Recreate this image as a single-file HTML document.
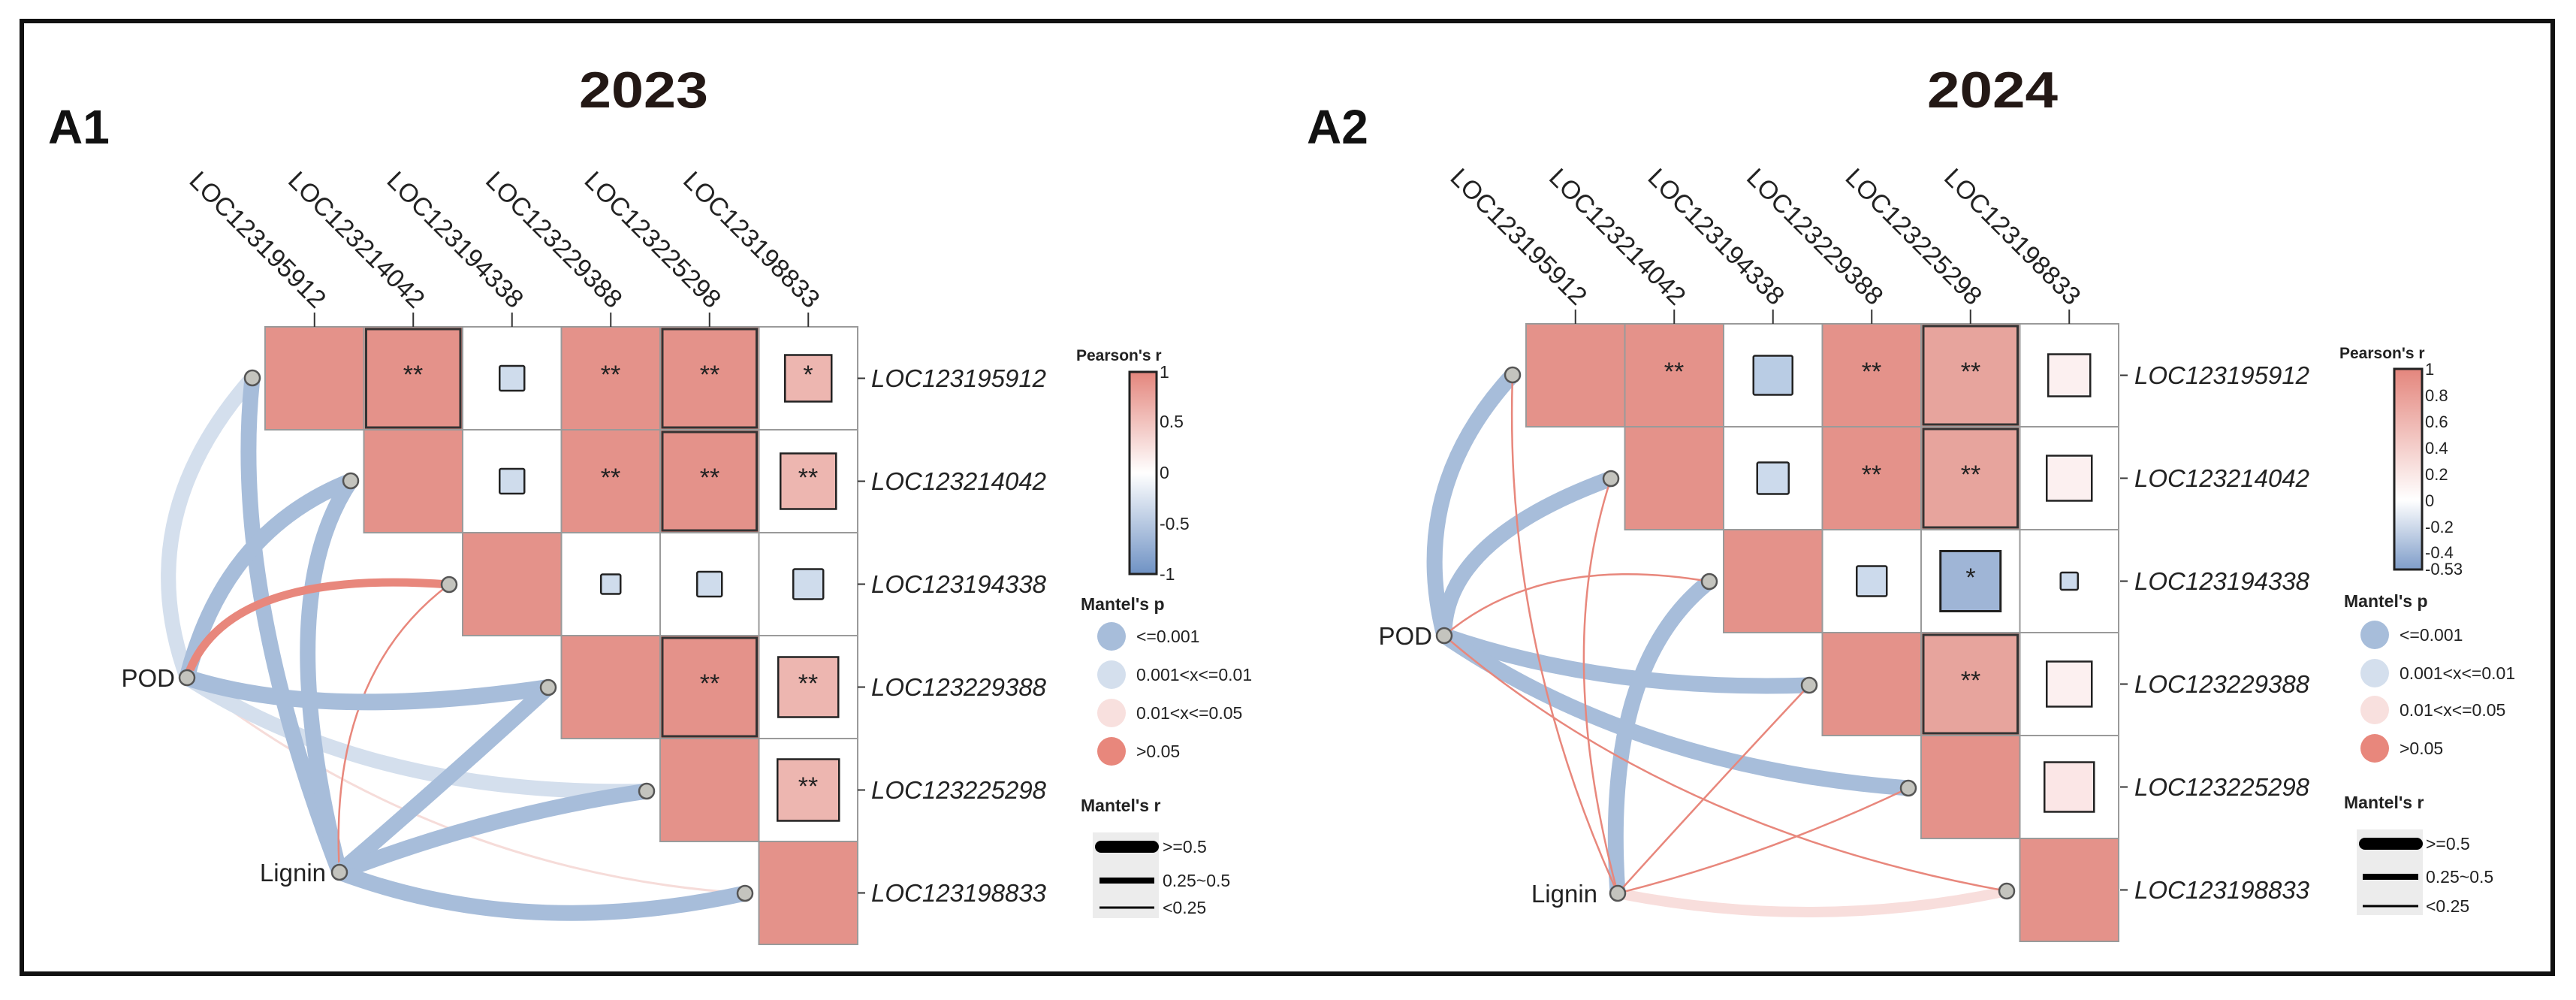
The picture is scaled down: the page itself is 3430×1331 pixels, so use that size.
<!DOCTYPE html>
<html><head><meta charset="utf-8"><style>
html,body{margin:0;padding:0;background:#fff;}
svg{display:block;font-family:"Liberation Sans",Arial,sans-serif;}
</style></head><body>
<svg width="3430" height="1331" viewBox="0 0 3430 1331" xmlns="http://www.w3.org/2000/svg">
<defs>
<linearGradient id="g1" x1="0" y1="0" x2="0" y2="1">
<stop offset="0" stop-color="#E4867D"/><stop offset="0.5" stop-color="#ffffff"/><stop offset="1" stop-color="#6F92C4"/>
</linearGradient>
<linearGradient id="g2" x1="0" y1="0" x2="0" y2="1">
<stop offset="0" stop-color="#E4867D"/><stop offset="0.654" stop-color="#ffffff"/><stop offset="1" stop-color="#7F9DC9"/>
</linearGradient>
</defs>
<rect x="0" y="0" width="3430" height="1331" fill="#fff"/>
<rect x="29" y="28" width="3370" height="1268" fill="none" stroke="#111" stroke-width="6"/>

<text x="857" y="143" font-size="68" font-weight="bold" text-anchor="middle" fill="#231815" textLength="172" lengthAdjust="spacingAndGlyphs">2023</text>
<text x="2653" y="143" font-size="68" font-weight="bold" text-anchor="middle" fill="#231815" textLength="174" lengthAdjust="spacingAndGlyphs">2024</text>
<text x="64" y="191" font-size="64" font-weight="bold" fill="#111">A1</text>
<text x="1740" y="191" font-size="64" font-weight="bold" fill="#111">A2</text>

<!-- ===== Panel A1 grid ===== -->
<g transform="translate(353,435)" stroke="#9a9a9a" stroke-width="2">
<rect x="0" y="0" width="131.5" height="137" fill="#E4928A"/>
<rect x="131.5" y="0" width="131.5" height="137" fill="#E4928A"/>
<rect x="134.5" y="3" width="125.5" height="131" fill="#E4928A" stroke="#333" stroke-width="3"/>
<rect x="263" y="0" width="131.5" height="137" fill="#fff"/>
<rect x="312.25" y="52" width="33" height="33" fill="#CFDCEC" stroke="#222" stroke-width="2.5" rx="2"/>
<rect x="394.5" y="0" width="131.5" height="137" fill="#E4928A"/>
<rect x="526" y="0" width="131.5" height="137" fill="#E4928A"/>
<rect x="529" y="3" width="125.5" height="131" fill="#E4928A" stroke="#333" stroke-width="3"/>
<rect x="657.5" y="0" width="131.5" height="137" fill="#fff"/>
<rect x="692.25" y="37.5" width="62" height="62" fill="#EDB6B0" stroke="#222" stroke-width="2.5"/>
<rect x="131.5" y="137" width="131.5" height="137" fill="#E4928A"/>
<rect x="263" y="137" width="131.5" height="137" fill="#fff"/>
<rect x="312.25" y="189" width="33" height="33" fill="#CFDCEC" stroke="#222" stroke-width="2.5" rx="2"/>
<rect x="394.5" y="137" width="131.5" height="137" fill="#E4928A"/>
<rect x="526" y="137" width="131.5" height="137" fill="#E4928A"/>
<rect x="529" y="140" width="125.5" height="131" fill="#E4928A" stroke="#333" stroke-width="3"/>
<rect x="657.5" y="137" width="131.5" height="137" fill="#fff"/>
<rect x="686.25" y="168.5" width="74" height="74" fill="#EDB6B0" stroke="#222" stroke-width="2.5"/>
<rect x="263" y="274" width="131.5" height="137" fill="#E4928A"/>
<rect x="394.5" y="274" width="131.5" height="137" fill="#fff"/>
<rect x="447.25" y="329.5" width="26" height="26" fill="#CFDCEC" stroke="#222" stroke-width="2.5" rx="2"/>
<rect x="526" y="274" width="131.5" height="137" fill="#fff"/>
<rect x="575.25" y="326" width="33" height="33" fill="#CFDCEC" stroke="#222" stroke-width="2.5" rx="2"/>
<rect x="657.5" y="274" width="131.5" height="137" fill="#fff"/>
<rect x="703.25" y="322.5" width="40" height="40" fill="#CFDCEC" stroke="#222" stroke-width="2.5" rx="2"/>
<rect x="394.5" y="411" width="131.5" height="137" fill="#E4928A"/>
<rect x="526" y="411" width="131.5" height="137" fill="#E4928A"/>
<rect x="529" y="414" width="125.5" height="131" fill="#E4928A" stroke="#333" stroke-width="3"/>
<rect x="657.5" y="411" width="131.5" height="137" fill="#fff"/>
<rect x="683.25" y="439.5" width="80" height="80" fill="#EDB6B0" stroke="#222" stroke-width="2.5"/>
<rect x="526" y="548" width="131.5" height="137" fill="#E4928A"/>
<rect x="657.5" y="548" width="131.5" height="137" fill="#fff"/>
<rect x="682.25" y="575.5" width="82" height="82" fill="#EDB6B0" stroke="#222" stroke-width="2.5"/>
<rect x="657.5" y="685" width="131.5" height="137" fill="#E4928A"/>
</g>
<g font-size="34" fill="#222" text-anchor="middle">
<text x="550" y="510">**</text><text x="813" y="510">**</text><text x="945" y="510">**</text><text x="1076" y="510">*</text>
<text x="813" y="647">**</text><text x="945" y="647">**</text><text x="1076" y="647">**</text>
<text x="945" y="921">**</text><text x="1076" y="921">**</text>
<text x="1076" y="1058">**</text>
</g>
<g stroke="#333" stroke-width="2">
<line x1="418.75" y1="416" x2="418.75" y2="435"/><line x1="550.25" y1="416" x2="550.25" y2="435"/><line x1="681.75" y1="416" x2="681.75" y2="435"/><line x1="813.25" y1="416" x2="813.25" y2="435"/><line x1="944.75" y1="416" x2="944.75" y2="435"/><line x1="1076.25" y1="416" x2="1076.25" y2="435"/>
<line x1="1142" y1="503.5" x2="1152" y2="503.5"/><line x1="1142" y1="640.5" x2="1152" y2="640.5"/><line x1="1142" y1="777.5" x2="1152" y2="777.5"/><line x1="1142" y1="914.5" x2="1152" y2="914.5"/><line x1="1142" y1="1051.5" x2="1152" y2="1051.5"/><line x1="1142" y1="1188.5" x2="1152" y2="1188.5"/>
</g>
<g font-size="34" fill="#222" text-anchor="end">
<text transform="translate(420,412) rotate(45)">LOC123195912</text>
<text transform="translate(551.5,412) rotate(45)">LOC123214042</text>
<text transform="translate(683,412) rotate(45)">LOC123194338</text>
<text transform="translate(814.5,412) rotate(45)">LOC123229388</text>
<text transform="translate(946,412) rotate(45)">LOC123225298</text>
<text transform="translate(1077.5,412) rotate(45)">LOC123198833</text>
</g>
<g font-size="33" fill="#222" font-style="italic">
<text x="1160" y="515">LOC123195912</text>
<text x="1160" y="652">LOC123214042</text>
<text x="1160" y="789">LOC123194338</text>
<text x="1160" y="926">LOC123229388</text>
<text x="1160" y="1063">LOC123225298</text>
<text x="1160" y="1200">LOC123198833</text>
</g>
<g fill="none">
<path d="M249,902 Q583.5,1162.5 992,1189" stroke="#F6DCD9" stroke-width="3"/>
<path d="M249,902 Q171.5,689.5 336,503" stroke="#D4DFED" stroke-width="20"/>
<path d="M249,902 Q495,1060.5 861,1053" stroke="#D4DFED" stroke-width="20"/>
<path d="M452,1161 Q306,782 336,503" stroke="#A7BDDA" stroke-width="21"/>
<path d="M249,902 Q298,707 467,640" stroke="#A7BDDA" stroke-width="21"/>
<path d="M452,1161 Q360.5,797.5 467,640" stroke="#A7BDDA" stroke-width="21"/>
<path d="M249,902 Q298.5,756 598,778" stroke="#E8877C" stroke-width="11"/>
<path d="M452,1161 Q437,898.5 598,778" stroke="#E8877C" stroke-width="2.5"/>
<path d="M249,902 Q428.5,959.5 730,915" stroke="#A7BDDA" stroke-width="22"/>
<path d="M452,1161 Q591,1042 730,915" stroke="#A7BDDA" stroke-width="21"/>
<path d="M452,1161 Q655.5,1083 861,1053" stroke="#A7BDDA" stroke-width="21"/>
<path d="M452,1161 Q700,1253 992,1189" stroke="#A7BDDA" stroke-width="21"/>
</g>
<g fill="#C4C4BE" stroke="#555" stroke-width="2.5">
<circle cx="336" cy="503" r="10"/><circle cx="467" cy="640" r="10"/><circle cx="598" cy="778" r="10"/><circle cx="730" cy="915" r="10"/><circle cx="861" cy="1053" r="10"/><circle cx="992" cy="1189" r="10"/>
<circle cx="249" cy="902" r="10"/><circle cx="452" cy="1161" r="10"/>
</g>
<text x="233" y="914" font-size="33" text-anchor="end" fill="#222">POD</text>
<text x="434" y="1173" font-size="33" text-anchor="end" fill="#222">Lignin</text>

<text x="1433" y="480" font-size="21" font-weight="bold" fill="#222">Pearson's r</text>
<rect x="1504" y="495" width="36" height="269" fill="url(#g1)" stroke="#222" stroke-width="3"/>
<g font-size="23" fill="#222">
<text x="1544" y="503">1</text><text x="1544" y="569">0.5</text><text x="1544" y="637">0</text><text x="1544" y="705">-0.5</text><text x="1544" y="772">-1</text>
</g>
<text x="1439" y="812" font-size="23" font-weight="bold" fill="#222">Mantel's p</text>
<circle cx="1480" cy="847" r="19" fill="#A7BDDA"/><circle cx="1480" cy="898" r="19" fill="#D4DFED"/><circle cx="1480" cy="949" r="19" fill="#F8E0DE"/><circle cx="1480" cy="1000" r="19" fill="#E8877C"/>
<g font-size="23" fill="#222">
<text x="1513" y="855">&lt;=0.001</text><text x="1513" y="906">0.001&lt;x&lt;=0.01</text><text x="1513" y="957">0.01&lt;x&lt;=0.05</text><text x="1513" y="1008">&gt;0.05</text>
</g>
<text x="1439" y="1080" font-size="23" font-weight="bold" fill="#222">Mantel's r</text>
<rect x="1455" y="1108" width="88" height="114" fill="#ececec"/>
<line x1="1466" y1="1127" x2="1535" y2="1127" stroke="#000" stroke-width="16" stroke-linecap="round"/>
<line x1="1464" y1="1172" x2="1537" y2="1172" stroke="#000" stroke-width="8"/>
<line x1="1464" y1="1208" x2="1537" y2="1208" stroke="#000" stroke-width="3"/>
<g font-size="23" fill="#222">
<text x="1548" y="1135">&gt;=0.5</text><text x="1548" y="1180">0.25~0.5</text><text x="1548" y="1216">&lt;0.25</text>
</g>

<!-- ===== Panel A2 grid ===== -->
<g transform="translate(2032,431)" stroke="#9a9a9a" stroke-width="2">
<rect x="0" y="0" width="131.5" height="137" fill="#E4928A"/>
<rect x="131.5" y="0" width="131.5" height="137" fill="#E4928A"/>
<rect x="263" y="0" width="131.5" height="137" fill="#fff"/>
<rect x="302.75" y="42.5" width="52" height="52" fill="#B9CCE4" stroke="#222" stroke-width="2.5" rx="2"/>
<rect x="394.5" y="0" width="131.5" height="137" fill="#E4928A"/>
<rect x="526" y="0" width="131.5" height="137" fill="#E7A49D"/>
<rect x="529" y="3" width="125.5" height="131" fill="#E7A49D" stroke="#333" stroke-width="3"/>
<rect x="657.5" y="0" width="131.5" height="137" fill="#fff"/>
<rect x="695.25" y="40.5" width="56" height="56" fill="#FCF0F0" stroke="#222" stroke-width="2.5"/>
<rect x="131.5" y="137" width="131.5" height="137" fill="#E4928A"/>
<rect x="263" y="137" width="131.5" height="137" fill="#fff"/>
<rect x="307.75" y="184.5" width="42" height="42" fill="#CCDAEC" stroke="#222" stroke-width="2.5" rx="2"/>
<rect x="394.5" y="137" width="131.5" height="137" fill="#E4928A"/>
<rect x="526" y="137" width="131.5" height="137" fill="#E7A49D"/>
<rect x="529" y="140" width="125.5" height="131" fill="#E7A49D" stroke="#333" stroke-width="3"/>
<rect x="657.5" y="137" width="131.5" height="137" fill="#fff"/>
<rect x="693.25" y="175.5" width="60" height="60" fill="#FCF0F0" stroke="#222" stroke-width="2.5"/>
<rect x="263" y="274" width="131.5" height="137" fill="#E4928A"/>
<rect x="394.5" y="274" width="131.5" height="137" fill="#fff"/>
<rect x="440.25" y="322.5" width="40" height="40" fill="#CCDAEC" stroke="#222" stroke-width="2.5" rx="2"/>
<rect x="526" y="274" width="131.5" height="137" fill="#fff"/>
<rect x="551.75" y="302.5" width="80" height="80" fill="#9FB5D6" stroke="#222" stroke-width="3"/>
<rect x="657.5" y="274" width="131.5" height="137" fill="#fff"/>
<rect x="711.75" y="331" width="23" height="23" fill="#CCDAEC" stroke="#222" stroke-width="2.5" rx="2"/>
<rect x="394.5" y="411" width="131.5" height="137" fill="#E4928A"/>
<rect x="526" y="411" width="131.5" height="137" fill="#E7A49D"/>
<rect x="529" y="414" width="125.5" height="131" fill="#E7A49D" stroke="#333" stroke-width="3"/>
<rect x="657.5" y="411" width="131.5" height="137" fill="#fff"/>
<rect x="693.25" y="449.5" width="60" height="60" fill="#FCF0F0" stroke="#222" stroke-width="2.5"/>
<rect x="526" y="548" width="131.5" height="137" fill="#E4928A"/>
<rect x="657.5" y="548" width="131.5" height="137" fill="#fff"/>
<rect x="690.25" y="583.5" width="66" height="66" fill="#FBE6E6" stroke="#222" stroke-width="2.5"/>
<rect x="657.5" y="685" width="131.5" height="137" fill="#E4928A"/>
</g>
<g font-size="34" fill="#222" text-anchor="middle">
<text x="2229" y="506">**</text><text x="2492" y="506">**</text><text x="2624" y="506">**</text>
<text x="2492" y="643">**</text><text x="2624" y="643">**</text>
<text x="2624" y="780">*</text>
<text x="2624" y="917">**</text>
</g>
<g stroke="#333" stroke-width="2">
<line x1="2097.75" y1="412" x2="2097.75" y2="431"/><line x1="2229.25" y1="412" x2="2229.25" y2="431"/><line x1="2360.75" y1="412" x2="2360.75" y2="431"/><line x1="2492.25" y1="412" x2="2492.25" y2="431"/><line x1="2623.75" y1="412" x2="2623.75" y2="431"/><line x1="2755.25" y1="412" x2="2755.25" y2="431"/>
<line x1="2823" y1="499.5" x2="2833" y2="499.5"/><line x1="2823" y1="636.5" x2="2833" y2="636.5"/><line x1="2823" y1="773.5" x2="2833" y2="773.5"/><line x1="2823" y1="910.5" x2="2833" y2="910.5"/><line x1="2823" y1="1047.5" x2="2833" y2="1047.5"/><line x1="2823" y1="1184.5" x2="2833" y2="1184.5"/>
</g>
<g font-size="34" fill="#222" text-anchor="end">
<text transform="translate(2099,408) rotate(45)">LOC123195912</text>
<text transform="translate(2230.5,408) rotate(45)">LOC123214042</text>
<text transform="translate(2362,408) rotate(45)">LOC123194338</text>
<text transform="translate(2493.5,408) rotate(45)">LOC123229388</text>
<text transform="translate(2625,408) rotate(45)">LOC123225298</text>
<text transform="translate(2756.5,408) rotate(45)">LOC123198833</text>
</g>
<g font-size="33" fill="#222" font-style="italic">
<text x="2842" y="511">LOC123195912</text>
<text x="2842" y="648">LOC123214042</text>
<text x="2842" y="785">LOC123194338</text>
<text x="2842" y="922">LOC123229388</text>
<text x="2842" y="1059">LOC123225298</text>
<text x="2842" y="1196">LOC123198833</text>
</g>
<g fill="none">
<path d="M2154,1189 Q2417,1240.5 2672,1186" stroke="#F8DEDC" stroke-width="14"/>
<path d="M1923,846 Q1873.5,651.5 2014,499" stroke="#A7BDDA" stroke-width="21"/>
<path d="M1923,846 Q1922,718.5 2145,637" stroke="#A7BDDA" stroke-width="21"/>
<path d="M1923,846 Q2140,921 2409,912" stroke="#A7BDDA" stroke-width="21"/>
<path d="M1923,846 Q2182,1022.5 2541,1049" stroke="#A7BDDA" stroke-width="21"/>
<path d="M2154,1189 Q2133,886.5 2276,774" stroke="#A7BDDA" stroke-width="21"/>
<path d="M1923,846 Q2052.5,736 2276,774" stroke="#E8877C" stroke-width="2.5"/>
<path d="M1923,846 Q2226.5,1106 2672,1186" stroke="#E8877C" stroke-width="2.5"/>
<path d="M2154,1189 Q2002,854 2014,499" stroke="#E8877C" stroke-width="2.5"/>
<path d="M2154,1189 Q2068.5,869 2145,637" stroke="#E8877C" stroke-width="2.5"/>
<path d="M2154,1189 Q2274.5,1055.5 2409,912" stroke="#E8877C" stroke-width="2.5"/>
<path d="M2154,1189 Q2352.5,1139 2541,1049" stroke="#E8877C" stroke-width="2.5"/>
</g>
<g fill="#C4C4BE" stroke="#555" stroke-width="2.5">
<circle cx="2014" cy="499" r="10"/><circle cx="2145" cy="637" r="10"/><circle cx="2276" cy="774" r="10"/><circle cx="2409" cy="912" r="10"/><circle cx="2541" cy="1049" r="10"/><circle cx="2672" cy="1186" r="10"/>
<circle cx="1923" cy="846" r="10"/><circle cx="2154" cy="1189" r="10"/>
</g>
<text x="1907" y="858" font-size="33" text-anchor="end" fill="#222">POD</text>
<text x="2127" y="1201" font-size="33" text-anchor="end" fill="#222">Lignin</text>

<text x="3115" y="477" font-size="21" font-weight="bold" fill="#222">Pearson's r</text>
<rect x="3188" y="491" width="37" height="267" fill="url(#g2)" stroke="#222" stroke-width="3"/>
<g font-size="22" fill="#222">
<text x="3229" y="499">1</text><text x="3229" y="534">0.8</text><text x="3229" y="569">0.6</text><text x="3229" y="604">0.4</text><text x="3229" y="639">0.2</text><text x="3229" y="674">0</text><text x="3229" y="709">-0.2</text><text x="3229" y="743">-0.4</text><text x="3229" y="765">-0.53</text>
</g>
<text x="3121" y="808" font-size="23" font-weight="bold" fill="#222">Mantel's p</text>
<circle cx="3162" cy="845" r="19" fill="#A7BDDA"/><circle cx="3162" cy="896" r="19" fill="#D4DFED"/><circle cx="3162" cy="945" r="19" fill="#F8E0DE"/><circle cx="3162" cy="996" r="19" fill="#E8877C"/>
<g font-size="23" fill="#222">
<text x="3195" y="853">&lt;=0.001</text><text x="3195" y="904">0.001&lt;x&lt;=0.01</text><text x="3195" y="953">0.01&lt;x&lt;=0.05</text><text x="3195" y="1004">&gt;0.05</text>
</g>
<text x="3121" y="1076" font-size="23" font-weight="bold" fill="#222">Mantel's r</text>
<rect x="3138" y="1104" width="88" height="114" fill="#ececec"/>
<line x1="3149" y1="1123" x2="3218" y2="1123" stroke="#000" stroke-width="16" stroke-linecap="round"/>
<line x1="3146" y1="1167" x2="3220" y2="1167" stroke="#000" stroke-width="8"/>
<line x1="3146" y1="1206" x2="3220" y2="1206" stroke="#000" stroke-width="3"/>
<g font-size="23" fill="#222">
<text x="3230" y="1131">&gt;=0.5</text><text x="3230" y="1175">0.25~0.5</text><text x="3230" y="1214">&lt;0.25</text>
</g>
</svg>
</body></html>
